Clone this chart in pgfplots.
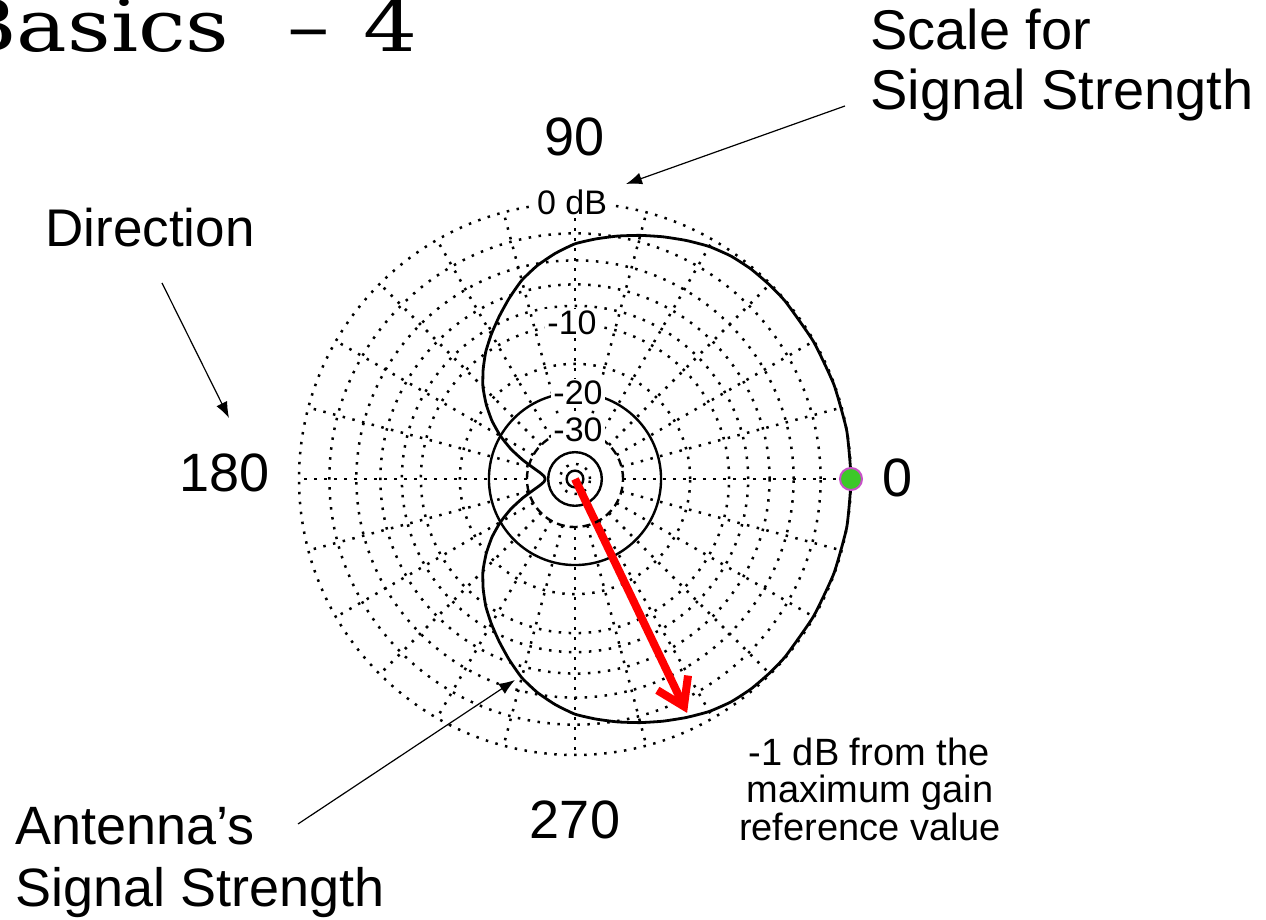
\documentclass[border=0pt]{standalone}
\usepackage{fontspec}
\setmainfont{Liberation Sans}
\newfontfamily\titlefont{DejaVu Serif}
\usepackage{pgfplots}
\usepackage{pgfplotstable}
\pgfplotsset{compat=1.18}
\usepgfplotslibrary{polar}
\usetikzlibrary{arrows.meta}

% antenna pattern: angle (deg), relative gain (dB)
\pgfplotstableread{
ang db
-180 -38.2
-175 -37.5
-170 -35.3
-165 -31.8
-160 -27.5
-155 -23.4
-150 -20.0
-145 -17.2
-140 -14.9
-135 -12.9
-130 -11.3
-125 -9.85
-120 -8.6
-115 -7.4
-110 -6.2
-105 -5.05
-100 -4.15
-95 -3.4
-90 -2.75
-85 -2.33
-80 -1.93
-75 -1.55
-70 -1.18
-65 -0.82
-60 -0.48
-55 -0.25
-50 -0.13
-45 -0.08
-40 -0.05
-30 -0.05
-20 -0.03
-10 0
0 0
10 0
20 -0.03
30 -0.05
40 -0.05
45 -0.08
50 -0.13
55 -0.25
60 -0.48
65 -0.82
70 -1.18
75 -1.55
80 -1.93
85 -2.33
90 -2.75
95 -3.4
100 -4.15
105 -5.05
110 -6.2
115 -7.4
120 -8.6
125 -9.85
130 -11.3
135 -12.9
140 -14.9
145 -17.2
150 -20.0
155 -23.4
160 -27.5
165 -31.8
170 -35.3
175 -37.5
180 -38.2
}\patterntable

\tikzset{
  dotgrid/.style={black, line width=1.25pt, dash pattern=on 1.25pt off 3.75pt},
  lbl/.style={font=\fontsize{27}{32}\selectfont, inner sep=0pt},
  ann/.style={black, line width=0.6pt, -{Latex[length=8pt,width=6pt]}},
}

\begin{document}
\begin{tikzpicture}[x=1pt,y=1pt]
\useasboundingbox (0,0) rectangle (633,460);

\begin{polaraxis}[
  at={(287.5pt,220.5pt)}, anchor=center,
  width=276pt, height=276pt, scale only axis,
  ymin=0, ymax=1,
  xtick=\empty,
  ytick={1,0.89,0.7921,0.705,0.6274,0.5584,0.4173,0.0543},
  yticklabels=\empty,
  ymajorgrids=true,
  major grid style={dotgrid},
  extra y ticks={0.3118,0.0972,0.0303},
  extra y tick labels={},
  extra y tick style={ymajorgrids=true, major grid style={black, line width=1.2pt, solid}},
  axis line style={draw=none},
  major tick length=0pt,
  clip=false,
]
\pgfplotsinvokeforeach{0,15,...,345}{
  \draw[dotgrid] (axis cs:#1,0.1741) -- (axis cs:#1,1);
}
\addplot[black, line width=1.4pt, line join=round, smooth, tension=0.3]
  table[x=ang, y expr={exp(0.058266*\thisrow{db})}] {\patterntable};
\addplot[red, line width=4pt, -{Straight Barb[length=13pt,width=17pt]}]
  coordinates {(0,0) (295.6,0.94)};
\addplot[only marks, mark=*, mark size=5.5pt,
  mark options={fill={rgb,255:red,60;green,200;blue,40}, draw={rgb,255:red,200;green,80;blue,200}, line width=1pt}]
  coordinates {(0,1)};
\end{polaraxis}

% second layer: dashed -30 dB ring
\begin{polaraxis}[
  at={(287.5pt,220.5pt)}, anchor=center,
  width=276pt, height=276pt, scale only axis,
  ymin=0, ymax=1,
  xtick=\empty,
  ytick={0.1741}, yticklabels=\empty,
  ymajorgrids=true,
  major grid style={black, line width=1.2pt, dash pattern=on 4pt off 2.5pt},
  axis line style={draw=none},
  major tick length=0pt,
]
\end{polaraxis}

% ring labels
\begin{scope}[every node/.style={font=\fontsize{17}{20}\selectfont, fill=white, inner sep=1pt}]
\node at (286,359) {0 dB};
\node at (286,298.5) {-10};
\node at (289,263.5) {-20};
\node at (289,245) {-30};
\end{scope}

% direction labels
\node[lbl] at (287.5,391.5) {90};
\node[lbl] at (112.25,223.5) {180};
\node[lbl] at (448.75,221.25) {0};
\node[lbl] at (287.5,50) {270};

% annotations
\node[lbl, anchor=base west, font=\fontsize{26.5}{32}\selectfont] at (22.5,336.5) {Direction};
\node[lbl, anchor=base west, font=\fontsize{28}{32}\selectfont] at (435,435) {Scale for};
\node[lbl, anchor=base west, font=\fontsize{28}{32}\selectfont] at (435,405) {Signal Strength};
\node[lbl, anchor=base west] at (7.5,37.5) {Antenna’s};
\node[lbl, anchor=base west] at (7.5,6.5) {Signal Strength};
\begin{scope}[every node/.style={font=\fontsize{19}{22}\selectfont, inner sep=0pt, anchor=base}]
\node at (434.5,77) {-1 dB from the};
\node at (435,58.5) {maximum gain};
\node at (435,39.5) {reference value};
\end{scope}

\draw[ann] (422.5,407) -- (313,368);
\draw[ann] (81,318.5) -- (114.5,251);
\draw[ann] (149,48) -- (257.5,120);

% title (its first letter runs off the page, as in the reference)
\begin{scope}[every node/.style={inner sep=0pt, font=\titlefont\fontsize{36}{40}\selectfont, xscale=1.18}]
\node[anchor=base east] at (115,434) {Basics};
\node[anchor=base] at (154.5,434) {–};
\node[anchor=base east] at (209,434) {4};
\end{scope}
\end{tikzpicture}
\end{document}
